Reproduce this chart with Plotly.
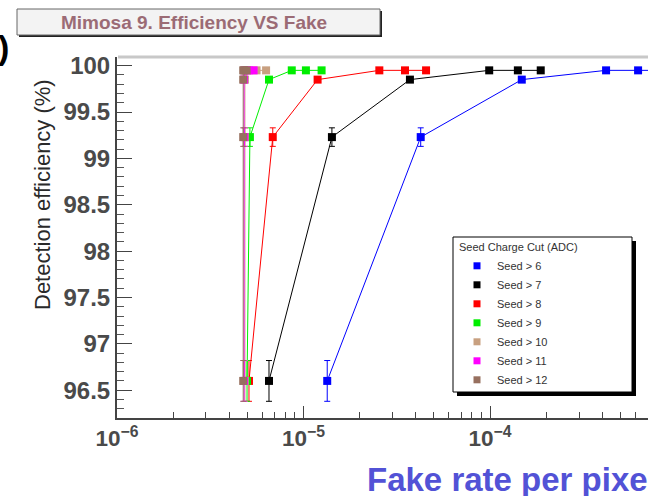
import plotly.graph_objects as go

# Efficiency levels shared by every seed cut (%), with their statistical errors
efficiency = [96.6, 99.23, 99.85, 99.95, 99.95, 99.95]
eff_error = [0.22, 0.10, 0.03, 0.01, 0.01, 0.01]

# Fake rate per pixel for each seed charge cut
fake_seed6 = [1.34e-5, 4.25e-5, 1.48e-4, 4.19e-4, 6.22e-4, 9.0e-4]
fake_seed7 = [6.53e-6, 1.42e-5, 3.72e-5, 9.9e-5, 1.41e-4, 1.87e-4]
fake_seed8 = [5.1e-6, 6.84e-6, 1.19e-5, 2.55e-5, 3.5e-5, 4.54e-5]
fake_seed9 = [4.98e-6, 5.16e-6, 6.53e-6, 8.65e-6, 1.03e-5, 1.25e-5]
fake_seed10 = [4.85e-6, 4.85e-6, 4.85e-6, 5.0e-6, 5.6e-6, 6.3e-6]
fake_seed11 = [4.8e-6, 4.82e-6, 4.8e-6, 4.85e-6, 5.1e-6, 5.4e-6]
fake_seed12 = [4.75e-6, 4.75e-6, 4.75e-6, 4.75e-6, 4.8e-6, 4.95e-6]

series_names = ["Seed > 6", "Seed > 7", "Seed > 8", "Seed > 9",
                "Seed > 10", "Seed > 11", "Seed > 12"]
series_fake = [fake_seed6, fake_seed7, fake_seed8, fake_seed9,
               fake_seed10, fake_seed11, fake_seed12]
series_colors = ["#0000ff", "#000000", "#ff0000", "#00ee00",
                 "#c8a080", "#ff00ff", "#97705f"]

W, H = 648, 496
ML, MR, MT, MB = 117, 0, 57, 78
PW, PH = W - ML - MR, H - MT - MB


def px(x):
    return (x - ML) / PW


def py(y):
    return (H - MB - y) / PH


fig = go.Figure()

for name, fake, col in zip(series_names, series_fake, series_colors):
    fig.add_trace(go.Scatter(
        x=fake, y=efficiency, mode="lines+markers", showlegend=False,
        line=dict(color=col, width=1),
        marker=dict(symbol="square", size=8, color=col),
        error_y=dict(type="data", array=eff_error, color=col,
                     thickness=1, width=3),
    ))

# marker-only legend entries
for name, col in zip(series_names, series_colors):
    fig.add_trace(go.Scatter(
        x=[None], y=[None], mode="markers", name=name,
        marker=dict(symbol="square", size=7, color=col),
    ))

shapes = [
    # top frame line
    dict(type="line", xref="paper", yref="paper", x0=px(118), x1=px(648),
         y0=1, y1=1, line=dict(color="#c8c8c8", width=3)),
    # title box with shadow
    dict(type="rect", xref="paper", yref="paper", x0=px(19), x1=px(382),
         y0=py(37), y1=py(11), fillcolor="#222222", line=dict(width=0)),
    dict(type="rect", xref="paper", yref="paper", x0=px(17), x1=px(380),
         y0=py(35), y1=py(9), fillcolor="#f3f3f3",
         line=dict(color="#666666", width=1)),
    # legend box with shadow
    dict(type="rect", xref="paper", yref="paper", x0=px(457), x1=px(636),
         y0=py(396), y1=py(241), fillcolor="#000000", line=dict(width=0)),
    dict(type="rect", xref="paper", yref="paper", x0=px(453), x1=px(632),
         y0=py(392), y1=py(237), fillcolor="#ffffff",
         line=dict(color="#000000", width=1)),
]

annotations = [
    dict(text="<b>Mimosa 9. Efficiency VS Fake</b>", xref="paper", yref="paper",
         x=px(194), y=py(22), xanchor="center", yanchor="middle",
         showarrow=False,
         font=dict(family="Liberation Sans, Arial", size=19, color="#9b6b75")),
    dict(text="Detection efficiency (%)", xref="paper", yref="paper",
         x=px(42), y=py(195), xanchor="center", yanchor="middle",
         textangle=-90, showarrow=False,
         font=dict(family="Liberation Sans, Arial", size=22, color="#2a2a2a")),
    dict(text="<b>Fake rate per pixel</b>", xref="paper", yref="paper",
         x=px(365), y=py(479), xanchor="left", yanchor="middle",
         showarrow=False,
         font=dict(family="Liberation Sans, Arial", size=33, color="#5252d6")),
    dict(text="<b>)</b>", xref="paper", yref="paper",
         x=px(3), y=py(47), xanchor="center", yanchor="middle",
         showarrow=False,
         font=dict(family="Liberation Sans, Arial", size=34, color="#000000")),
]

fig.update_layout(
    width=W, height=H,
    margin=dict(l=ML, r=MR, t=MT, b=MB, pad=0),
    paper_bgcolor="white", plot_bgcolor="white",
    shapes=shapes, annotations=annotations,
    legend=dict(
        x=px(457), y=py(237), xanchor="left", yanchor="top",
        bgcolor="rgba(0,0,0,0)", borderwidth=0,
        title=dict(text="Seed Charge Cut (ADC)",
                   font=dict(family="Liberation Sans, Arial", size=11, color="#333333")),
        font=dict(family="Liberation Sans, Arial", size=11, color="#333333"),
    ),
    xaxis=dict(
        type="log", range=[-6, -3.153], dtick=1,
        exponentformat="power", showexponent="all",
        showgrid=False, zeroline=False,
        showline=True, linecolor="#444444", linewidth=2,
        ticks="inside", ticklen=12, tickcolor="#444444", tickwidth=1,
        minor=dict(ticks="inside", ticklen=6, dtick="D1",
                   tickcolor="#444444", showgrid=False),
        tickfont=dict(family="Liberation Sans, Arial", size=18,
                      color="#4a4a4a", weight="bold"),
    ),
    yaxis=dict(
        range=[96.2, 100.094], dtick=0.5, tick0=96.5,
        showgrid=False, zeroline=False,
        showline=True, linecolor="#444444", linewidth=2,
        ticks="inside", ticklen=15, tickcolor="#444444", tickwidth=1,
        minor=dict(ticks="inside", ticklen=7, dtick=0.1,
                   tickcolor="#555555", showgrid=False),
        tickfont=dict(family="Liberation Sans, Arial", size=24,
                      color="#4a4a4a", weight="bold"),
    ),
)

fig.write_html("out.html")
